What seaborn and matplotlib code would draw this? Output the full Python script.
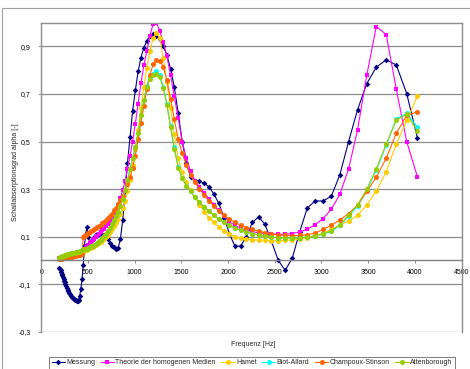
import matplotlib
matplotlib.use("Agg")
import matplotlib.pyplot as plt
import seaborn as sns
from matplotlib.patches import Rectangle
from matplotlib.lines import Line2D

freq = [194, 200, 206, 212, 218, 224, 231, 238, 245, 252,
        259, 267, 275, 283, 291, 299, 308, 317, 327, 336,
        346, 356, 367, 377, 388, 400, 411, 423, 436, 449,
        462, 475, 489, 504, 518, 533, 549, 565, 582, 599,
        616, 634, 653, 672, 692, 712, 733, 754, 777, 799,
        823, 847, 872, 897, 923, 951, 978, 1007, 1037, 1067,
        1098, 1130, 1163, 1198, 1233, 1269, 1306, 1344, 1384, 1424,
        1466, 1509, 1553, 1599, 1645, 1694, 1743, 1794, 1847, 1901,
        1957, 2014, 2073, 2134, 2196, 2261, 2327, 2395, 2465, 2538,
        2612, 2688, 2767, 2848, 2932, 3018, 3106, 3197, 3291, 3387,
        3486, 3588, 3694, 3802, 3913, 4028]

messung = [-0.03, -0.035, -0.042, -0.05, -0.056, -0.063, -0.07, -0.078, -0.085, -0.093,
           -0.10, -0.108, -0.115, -0.123, -0.13, -0.137, -0.143, -0.15, -0.155, -0.16,
           -0.163, -0.166, -0.168, -0.17, -0.169, -0.165, -0.15, -0.12, -0.08, -0.02,
           0.06, 0.11, 0.14, 0.10, 0.075, 0.08, 0.09, 0.10, 0.105, 0.11,
           0.11, 0.11, 0.108, 0.105, 0.10, 0.09, 0.075, 0.062, 0.055, 0.05,
           0.052, 0.09, 0.17, 0.29, 0.41, 0.52, 0.63, 0.715, 0.795, 0.853,
           0.895, 0.923, 0.945, 0.954, 0.945, 0.932, 0.90, 0.865, 0.806, 0.73,
           0.62, 0.50, 0.41, 0.35, 0.335, 0.333, 0.325, 0.31, 0.28, 0.24,
           0.18, 0.113, 0.06, 0.06, 0.10, 0.16, 0.183, 0.152, 0.08, 0.0,
           -0.042, 0.01, 0.12, 0.22, 0.25, 0.25, 0.27, 0.36, 0.50, 0.634,
           0.744, 0.813, 0.844, 0.822, 0.702, 0.515]

theorie = [0.01, 0.011, 0.012, 0.013, 0.014, 0.015, 0.016, 0.017, 0.018, 0.019,
           0.02, 0.021, 0.022, 0.023, 0.024, 0.025, 0.026, 0.027, 0.028, 0.029,
           0.03, 0.031, 0.032, 0.033, 0.034, 0.035, 0.036, 0.038, 0.04, 0.043,
           0.048, 0.053, 0.059, 0.065, 0.072, 0.078, 0.084, 0.09, 0.097, 0.104,
           0.111, 0.118, 0.126, 0.134, 0.143, 0.153, 0.163, 0.176, 0.19, 0.21,
           0.235, 0.262, 0.295, 0.335, 0.385, 0.44, 0.50, 0.575, 0.66, 0.745,
           0.82, 0.88, 0.945, 0.995, 1.0, 0.965, 0.92, 0.86, 0.78, 0.69,
           0.60, 0.50, 0.43, 0.375, 0.335, 0.31, 0.285, 0.26, 0.235, 0.21,
           0.185, 0.163, 0.148, 0.136, 0.128, 0.121, 0.116, 0.113, 0.111, 0.11,
           0.11, 0.113, 0.12, 0.131, 0.15, 0.176, 0.215, 0.278, 0.385, 0.55,
           0.78, 0.984, 0.95, 0.72, 0.50, 0.352]

hamet = [0.008, 0.009, 0.01, 0.011, 0.012, 0.013, 0.014, 0.015, 0.016, 0.017,
         0.018, 0.019, 0.02, 0.021, 0.022, 0.023, 0.024, 0.025, 0.026, 0.027,
         0.028, 0.029, 0.03, 0.031, 0.032, 0.033, 0.034, 0.035, 0.037, 0.039,
         0.041, 0.043, 0.045, 0.048, 0.051, 0.054, 0.057, 0.061, 0.065, 0.069,
         0.074, 0.079, 0.085, 0.092, 0.099, 0.108, 0.118, 0.13, 0.143, 0.158,
         0.175, 0.195, 0.22, 0.25, 0.29, 0.34, 0.40, 0.47, 0.55, 0.64,
         0.73, 0.81, 0.88, 0.935, 0.958, 0.935, 0.85, 0.75, 0.64, 0.53,
         0.43, 0.37, 0.33, 0.295, 0.265, 0.235, 0.205, 0.18, 0.16, 0.14,
         0.125, 0.11, 0.10, 0.094, 0.09, 0.087, 0.085, 0.084, 0.083, 0.083,
         0.084, 0.086, 0.09, 0.096, 0.103, 0.115, 0.13, 0.148, 0.165, 0.19,
         0.233, 0.292, 0.373, 0.49, 0.59, 0.69]

biot_allard = [0.012, 0.013, 0.014, 0.015, 0.016, 0.017, 0.018, 0.019, 0.02, 0.021,
               0.022, 0.023, 0.024, 0.025, 0.026, 0.027, 0.028, 0.029, 0.03, 0.031,
               0.032, 0.033, 0.034, 0.035, 0.036, 0.037, 0.039, 0.04, 0.042, 0.044,
               0.046, 0.048, 0.05, 0.053, 0.056, 0.059, 0.062, 0.066, 0.07, 0.074,
               0.08, 0.086, 0.093, 0.101, 0.11, 0.123, 0.137, 0.152, 0.168, 0.185,
               0.205, 0.23, 0.26, 0.295, 0.338, 0.385, 0.43, 0.475, 0.535, 0.61,
               0.675, 0.735, 0.77, 0.785, 0.795, 0.78, 0.73, 0.66, 0.565, 0.475,
               0.395, 0.345, 0.315, 0.29, 0.265, 0.245, 0.225, 0.207, 0.19, 0.175,
               0.16, 0.147, 0.136, 0.127, 0.12, 0.113, 0.107, 0.102, 0.098, 0.095,
               0.094, 0.094, 0.095, 0.098, 0.103, 0.11, 0.122, 0.147, 0.185, 0.228,
               0.295, 0.38, 0.485, 0.595, 0.62, 0.56]

champoux = [0.005, 0.006, 0.006, 0.007, 0.007, 0.008, 0.008, 0.009, 0.01, 0.01,
            0.011, 0.011, 0.012, 0.013, 0.013, 0.014, 0.015, 0.016, 0.016, 0.017,
            0.018, 0.019, 0.02, 0.021, 0.022, 0.023, 0.024, 0.025, 0.026, 0.10,
            0.103, 0.106, 0.11, 0.114, 0.118, 0.122, 0.126, 0.13, 0.135, 0.14,
            0.145, 0.15, 0.156, 0.162, 0.17, 0.178, 0.187, 0.197, 0.21, 0.222,
            0.237, 0.253, 0.272, 0.295, 0.32, 0.35, 0.39, 0.44, 0.51, 0.58,
            0.65, 0.72, 0.78, 0.825, 0.845, 0.838, 0.815, 0.76, 0.68, 0.595,
            0.51, 0.45, 0.40, 0.36, 0.33, 0.30, 0.275, 0.25, 0.228, 0.208,
            0.19, 0.174, 0.16, 0.148, 0.138, 0.13, 0.123, 0.117, 0.112, 0.108,
            0.105, 0.104, 0.105, 0.108, 0.115, 0.13, 0.148, 0.17, 0.197, 0.233,
            0.29, 0.35, 0.43, 0.535, 0.61, 0.625]

attenborough = [0.012, 0.013, 0.014, 0.015, 0.016, 0.017, 0.018, 0.019, 0.02, 0.021,
                0.022, 0.023, 0.024, 0.025, 0.026, 0.027, 0.028, 0.029, 0.03, 0.031,
                0.032, 0.033, 0.034, 0.035, 0.036, 0.037, 0.039, 0.04, 0.042, 0.044,
                0.046, 0.048, 0.05, 0.053, 0.056, 0.059, 0.062, 0.066, 0.07, 0.074,
                0.08, 0.086, 0.093, 0.101, 0.11, 0.123, 0.137, 0.152, 0.168, 0.185,
                0.205, 0.23, 0.26, 0.295, 0.338, 0.385, 0.43, 0.475, 0.535, 0.61,
                0.675, 0.73, 0.765, 0.778, 0.785, 0.77, 0.725, 0.655, 0.56, 0.47,
                0.39, 0.345, 0.315, 0.29, 0.265, 0.245, 0.225, 0.207, 0.19, 0.175,
                0.16, 0.147, 0.136, 0.127, 0.12, 0.113, 0.107, 0.102, 0.098, 0.095,
                0.094, 0.094, 0.095, 0.098, 0.103, 0.112, 0.125, 0.15, 0.19, 0.233,
                0.30, 0.385, 0.49, 0.59, 0.615, 0.545]

series_names = ["Messung", "Theorie der homogenen Medien", "Hamet",
                "Biot-Allard", "Champoux-Stinson", "Attenborough"]
series_values = [messung, theorie, hamet, biot_allard, champoux, attenborough]
colors = ["#000080", "#FF00FF", "#FFCC00", "#00FFFF", "#FF6600", "#99CC00"]
markers = ["D", "s", "o", "o", "o", "o"]
msizes = [2.9, 3.1, 3.6, 3.6, 3.6, 3.6]

xticks = [0, 500, 1000, 1500, 2000, 2500, 3000, 3500, 4000, 4500]
yticks = [-0.3, -0.1, 0.1, 0.3, 0.5, 0.7, 0.9]
ytick_labels = ["-0,3", "-0,1", "0,1", "0,3", "0,5", "0,7", "0,9"]

sns.set_theme(style="white")
plt.rcParams['font.family'] = ['Liberation Sans', 'DejaVu Sans']

W, H = 470, 369
fig = plt.figure(figsize=(W / 100, H / 100), dpi=100)
L, R, T, B = 41.3, 461.5, 22.7, 331.7
ax = fig.add_axes([L / W, 1 - B / H, (R - L) / W, (B - T) / H])
ax.set_facecolor("white")

grid_c = "#8c8c8c"
handles = []
for name, vals, c, m, ms in zip(series_names, series_values, colors, markers, msizes):
    sns.lineplot(x=freq, y=vals, ax=ax, color=c, marker=m, markersize=ms,
                 markeredgewidth=0, linewidth=0.8, sort=False, estimator=None)
    handles.append(Line2D([0], [0], color=c, marker=m, markersize=ms,
                          markeredgewidth=0, linewidth=0.8, label=name))

ax.set_xlim(0, 4500)
ax.set_ylim(-0.3, 1.0)
ax.set_xticks(xticks)
ax.set_xticklabels([str(v) for v in xticks])
ax.set_yticks(yticks)
ax.set_yticklabels(ytick_labels)
ax.yaxis.grid(True, color=grid_c, linewidth=0.9)
ax.xaxis.grid(False)
ax.set_axisbelow(True)

for s in ["left", "top", "right"]:
    ax.spines[s].set_visible(True)
    ax.spines[s].set_color(grid_c)
    ax.spines[s].set_linewidth(1.0)
ax.spines["bottom"].set_position(("data", 0))
ax.spines["bottom"].set_color("#808080")
ax.spines["bottom"].set_linewidth(1.0)

ax.tick_params(axis="both", labelsize=5, colors="#000000", pad=2)
ax.tick_params(axis="x", direction="out", length=2.5, width=0.6, color="#808080", pad=4)
ax.tick_params(axis="y", direction="out", length=2.5, width=0.6, color="#808080", pad=5)
ax.tick_params(bottom=True, left=True)

ax.set_xlabel("")
ax.set_ylabel("")
fig.text(252.8 / W, 1 - 344 / H, "Frequenz [Hz]", fontsize=5, ha="center", va="center")
fig.text(15.5 / W, 1 - 172 / H, "Schallabsorptionsgrad alpha [-]", fontsize=5,
         rotation=90, ha="center", va="center")

leg = fig.legend(handles=handles, loc="center", bbox_to_anchor=(252 / W, 1 - 362.7 / H),
                 ncol=6, fontsize=5, frameon=True, fancybox=False, handlelength=1.9,
                 handletextpad=0.2, columnspacing=0.8, borderpad=0.35)
leg.get_frame().set_edgecolor("#404040")
leg.get_frame().set_linewidth(0.6)

fig.patches.append(Rectangle((1.7 / W, -0.2), 1.2, 1.2 - 8.3 / H, transform=fig.transFigure,
                             fill=False, edgecolor="#a0a0a0", linewidth=0.8))

fig.savefig("out.png", dpi=100, facecolor="white")
